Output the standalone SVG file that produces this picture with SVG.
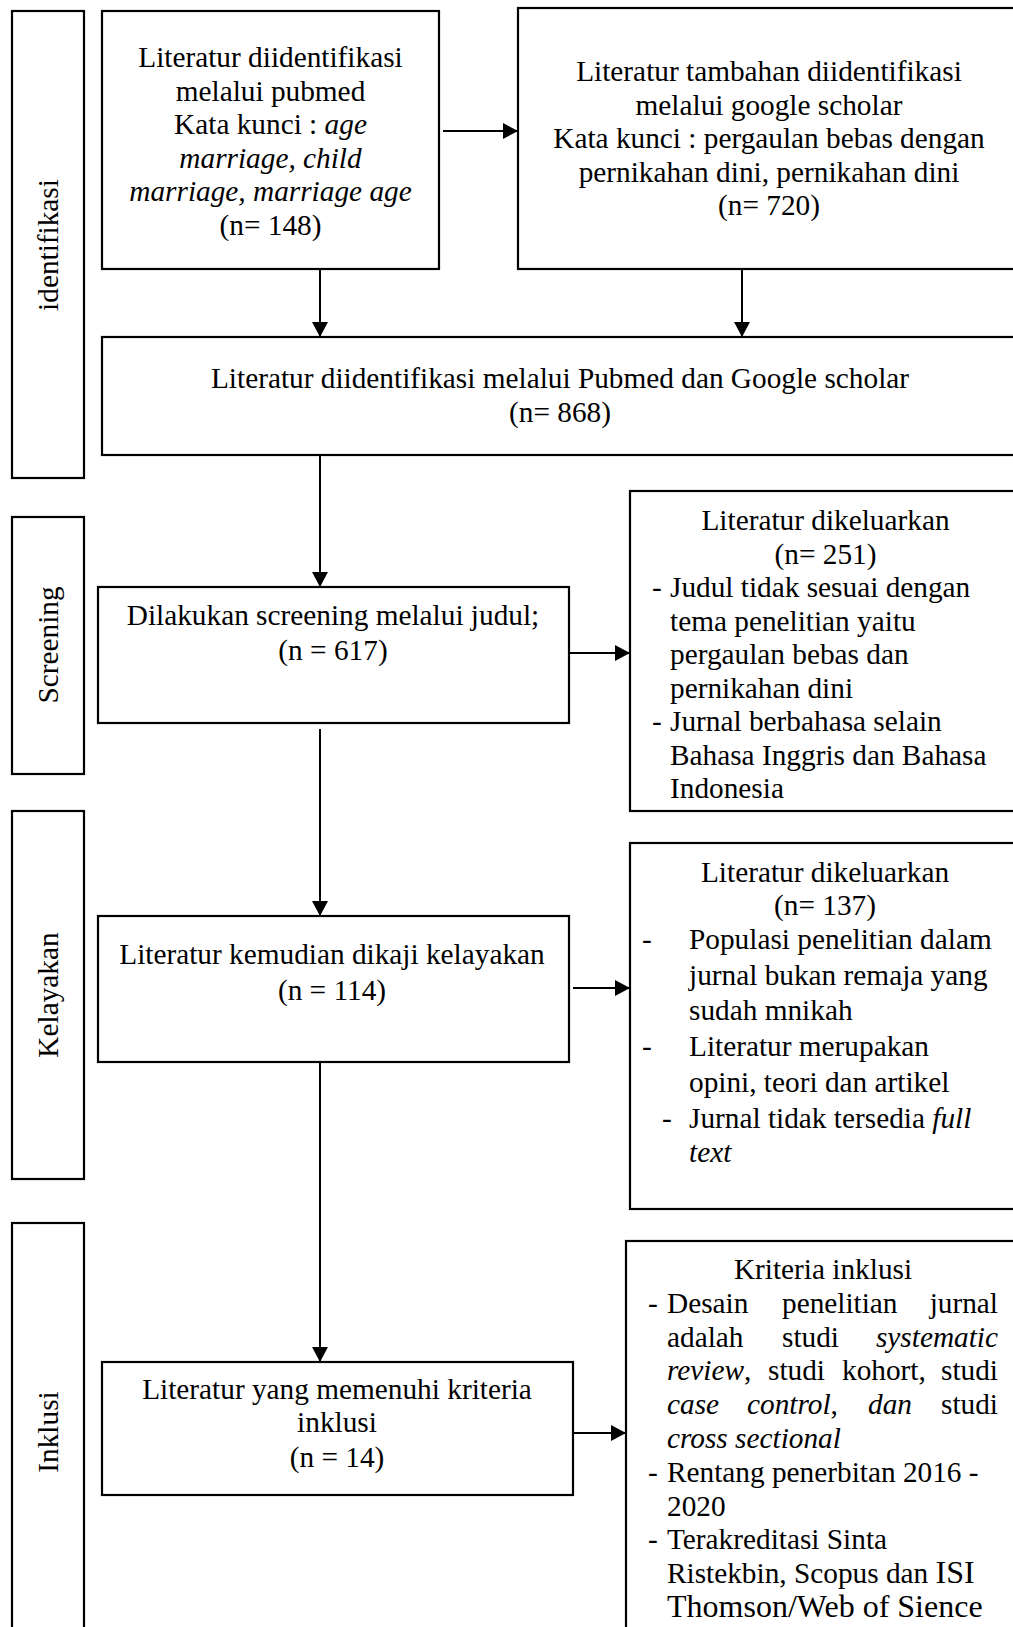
<svg xmlns="http://www.w3.org/2000/svg" width="1013" height="1627" viewBox="0 0 1013 1627">
<style>
.box{fill:#fff;stroke:#000;stroke-width:2.2}
.t{font-family:"Liberation Serif","Times New Roman",serif;font-size:29.3px;fill:#000}
.c{text-anchor:middle}
.e{text-anchor:end}
.i{font-style:italic}
.big{font-size:32px}
.conn{stroke:#000;stroke-width:2;fill:none;marker-end:url(#ah)}
</style>
<defs>
<marker id="ah" viewBox="0 0 15 16" refX="15" refY="8" markerWidth="15" markerHeight="16" markerUnits="userSpaceOnUse" orient="auto">
<path d="M0,0 L15,8 L0,16 z" fill="#000"/>
</marker>
</defs>
<rect width="1013" height="1627" fill="#fff"/>

<g id="side-identifikasi">
<rect class="box" x="12" y="11" width="72" height="467"/>
<text class="t c" transform="translate(57.5,245) rotate(-90)">identifikasi</text>
</g>
<g id="side-screening">
<rect class="box" x="12" y="517" width="72" height="257"/>
<text class="t c" transform="translate(57.5,645) rotate(-90)">Screening</text>
</g>
<g id="side-kelayakan">
<rect class="box" x="12" y="811" width="72" height="368"/>
<text class="t c" transform="translate(57.5,995) rotate(-90)">Kelayakan</text>
</g>
<g id="side-inklusi">
<rect class="box" x="12" y="1223" width="72" height="430"/>
<text class="t c" transform="translate(57.5,1432) rotate(-90)">Inklusi</text>
</g>

<g id="box-pubmed">
<rect class="box" x="102" y="11" width="337" height="258"/>
<text class="t c" x="270.5" y="67">Literatur diidentifikasi</text>
<text class="t c" x="270.5" y="100.6">melalui pubmed</text>
<text class="t c" x="270.5" y="134.2">Kata kunci : <tspan class="i">age</tspan></text>
<text class="t c i" x="270.5" y="167.8">marriage, child</text>
<text class="t c i" x="270.5" y="201.4">marriage, marriage age</text>
<text class="t c" x="270.5" y="235">(n= 148)</text>
</g>

<g id="box-scholar">
<rect class="box" x="518" y="8" width="510" height="261"/>
<text class="t c" x="769" y="81">Literatur tambahan diidentifikasi</text>
<text class="t c" x="769" y="114.6">melalui google scholar</text>
<text class="t c" x="769" y="148.2">Kata kunci : pergaulan bebas dengan</text>
<text class="t c" x="769" y="181.8">pernikahan dini, pernikahan dini</text>
<text class="t c" x="769" y="215.4">(n= 720)</text>
</g>

<g id="box-combined">
<rect class="box" x="102" y="337" width="926" height="118"/>
<text class="t c" x="560" y="388">Literatur diidentifikasi melalui Pubmed dan Google scholar</text>
<text class="t c" x="560" y="422">(n= 868)</text>
</g>

<g id="box-screening">
<rect class="box" x="98" y="587" width="471" height="136"/>
<text class="t c" x="333" y="625">Dilakukan screening melalui judul;</text>
<text class="t c" x="333" y="660">(n = 617)</text>
</g>

<g id="box-excluded1">
<rect class="box" x="630" y="491" width="398" height="320"/>
<text class="t c" x="825.5" y="530">Literatur dikeluarkan</text>
<text class="t c" x="825.5" y="563.5">(n= 251)</text>
<text class="t" x="652" y="597">-</text>
<text class="t" x="670" y="597">Judul tidak sesuai dengan</text>
<text class="t" x="670" y="630.5">tema penelitian yaitu</text>
<text class="t" x="670" y="664">pergaulan bebas dan</text>
<text class="t" x="670" y="697.5">pernikahan dini</text>
<text class="t" x="652" y="731">-</text>
<text class="t" x="670" y="731">Jurnal berbahasa selain</text>
<text class="t" x="670" y="764.5">Bahasa Inggris dan Bahasa</text>
<text class="t" x="670" y="798">Indonesia</text>
</g>

<g id="box-eligibility">
<rect class="box" x="98" y="916" width="471" height="146"/>
<text class="t c" x="332" y="964">Literatur kemudian dikaji kelayakan</text>
<text class="t c" x="332" y="1000">(n = 114)</text>
</g>

<g id="box-excluded2">
<rect class="box" x="630" y="843" width="398" height="366"/>
<text class="t c" x="825" y="882">Literatur dikeluarkan</text>
<text class="t c" x="825" y="915">(n= 137)</text>
<text class="t" x="642" y="949">-</text>
<text class="t" x="689" y="949">Populasi penelitian dalam</text>
<text class="t" x="689" y="985">jurnal bukan remaja yang</text>
<text class="t" x="689" y="1020">sudah mnikah</text>
<text class="t" x="642" y="1056">-</text>
<text class="t" x="689" y="1056">Literatur merupakan</text>
<text class="t" x="689" y="1092">opini, teori dan artikel</text>
<text class="t" x="662" y="1128">-</text>
<text class="t" x="689" y="1128">Jurnal tidak tersedia <tspan class="i">full</tspan></text>
<text class="t i" x="689" y="1162">text</text>
</g>

<g id="box-included">
<rect class="box" x="102" y="1362" width="471" height="133"/>
<text class="t c" x="337" y="1399">Literatur yang memenuhi kriteria</text>
<text class="t c" x="337" y="1432">inklusi</text>
<text class="t c" x="337" y="1467">(n = 14)</text>
</g>

<g id="box-criteria">
<rect class="box" x="626" y="1241" width="402" height="412"/>
<text class="t c" x="823" y="1279">Kriteria inklusi</text>
<text class="t" x="648" y="1312.8">-</text>
<text class="t" x="667" y="1312.8">Desain</text>
<text class="t" x="782" y="1312.8">penelitian</text>
<text class="t e" x="998" y="1312.8">jurnal</text>
<text class="t" x="667" y="1346.6">adalah</text>
<text class="t" x="782" y="1346.6">studi</text>
<text class="t e i" x="998" y="1346.6">systematic</text>
<text class="t" x="667" y="1380.4"><tspan class="i">review</tspan>,</text>
<text class="t" x="768" y="1380.4">studi</text>
<text class="t" x="842" y="1380.4">kohort,</text>
<text class="t e" x="998" y="1380.4">studi</text>
<text class="t i" x="667" y="1414.2">case</text>
<text class="t" x="747" y="1414.2"><tspan class="i">control</tspan>,</text>
<text class="t i" x="868" y="1414.2">dan</text>
<text class="t e" x="998" y="1414.2">studi</text>
<text class="t i" x="667" y="1448">cross sectional</text>
<text class="t" x="648" y="1481.8">-</text>
<text class="t" x="667" y="1481.8">Rentang penerbitan 2016 -</text>
<text class="t" x="667" y="1515.6">2020</text>
<text class="t" x="648" y="1549.4">-</text>
<text class="t" x="667" y="1549.4">Terakreditasi Sinta</text>
<text class="t" x="667" y="1583.2">Ristekbin, Scopus dan <tspan class="big">ISI</tspan></text>
<text class="t big" x="667" y="1617">Thomson/Web of Sience</text>
</g>

<g id="connectors">
<line class="conn" x1="443" y1="131" x2="518" y2="131"/>
<line class="conn" x1="320" y1="269" x2="320" y2="337"/>
<line class="conn" x1="742" y1="269" x2="742" y2="337"/>
<line class="conn" x1="320" y1="455" x2="320" y2="587"/>
<line class="conn" x1="569" y1="653" x2="630" y2="653"/>
<line class="conn" x1="320" y1="729" x2="320" y2="916"/>
<line class="conn" x1="573" y1="988" x2="630" y2="988"/>
<line class="conn" x1="320" y1="1062" x2="320" y2="1362"/>
<line class="conn" x1="573" y1="1433" x2="626" y2="1433"/>
</g>
</svg>
